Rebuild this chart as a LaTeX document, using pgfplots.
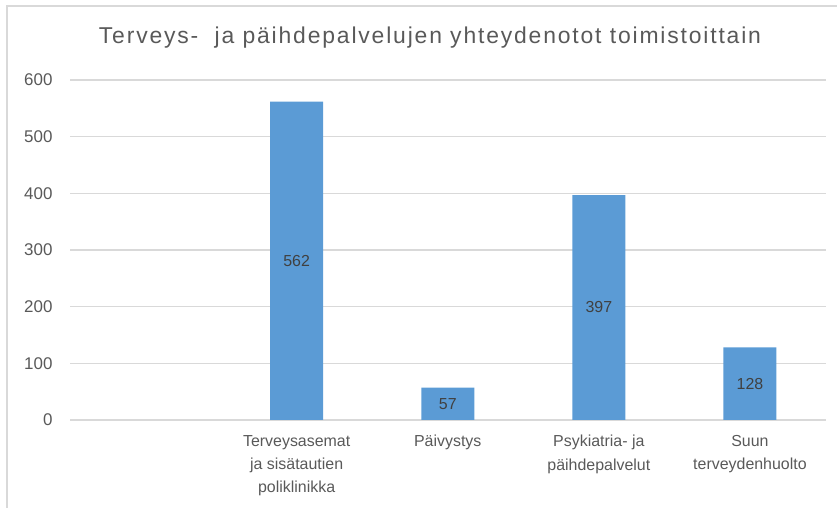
\documentclass[border=0pt]{standalone}
\usepackage{fontspec}
\setmainfont{Liberation Sans}
\newfontfamily\titlefont[LetterSpace=8]{Liberation Sans}
\usepackage{pgfplots}
\pgfplotsset{compat=1.18}

\definecolor{barblue}{HTML}{5B9BD5}
\definecolor{gridgray}{HTML}{D9D9D9}
\definecolor{textgray}{HTML}{595959}
\definecolor{labelgray}{HTML}{404040}

\begin{document}
\begin{tikzpicture}
  \useasboundingbox (0,0) rectangle (837bp,508bp);
  % chart frame (clipped on right and bottom in the original)
  \draw[gridgray, line width=1.5bp] (7bp,0) -- (7bp,502bp) -- (837bp,502bp);

  \node[text=textgray, font=\titlefont\fontsize{23}{27}\selectfont] at (430bp,470bp)
    {Terveys-\ \ ja päihdepalvelujen yhteydenotot toimistoittain};

  \begin{axis}[
      at={(70bp,88bp)}, anchor=south west,
      scale only axis,
      width=755.5bp, height=340bp,
      ybar, bar width=53bp,
      xmin=-0.5, xmax=4.5,
      ymin=0, ymax=600,
      ytick={0,100,...,600},
      xtick={1,2,3,4},
      xticklabels={
        {Terveysasemat\\ja sisätautien\\poliklinikka},
        {Päivystys},
        {Psykiatria- ja\\päihdepalvelut},
        {Suun\\terveydenhuolto}},
      axis line style={draw=none},
      major tick length=0pt,
      ymajorgrids,
      grid style={gridgray, line width=1.2bp},
      /pgf/number format/assume math mode=true,
      yticklabel style={text=textgray, font=\fontsize{17}{20}\selectfont, xshift=-14bp},
      xticklabel style={text=textgray, align=center, anchor=north, inner sep=0pt,
        yshift=-15bp, font=\fontsize{16}{23.5}\selectfont},
      visualization depends on={rawy \as \rawy},
      nodes near coords,
      nodes near coords style={text=labelgray, anchor=center,
        font=\fontsize{16}{19}\selectfont, yshift={-\rawy*0.28333bp}},
    ]
    \addplot[draw=none, fill=barblue] coordinates {
      (1,562)
      (2,57)
      (3,397)
      (4,128)
    };
  \end{axis}
\end{tikzpicture}
\end{document}
